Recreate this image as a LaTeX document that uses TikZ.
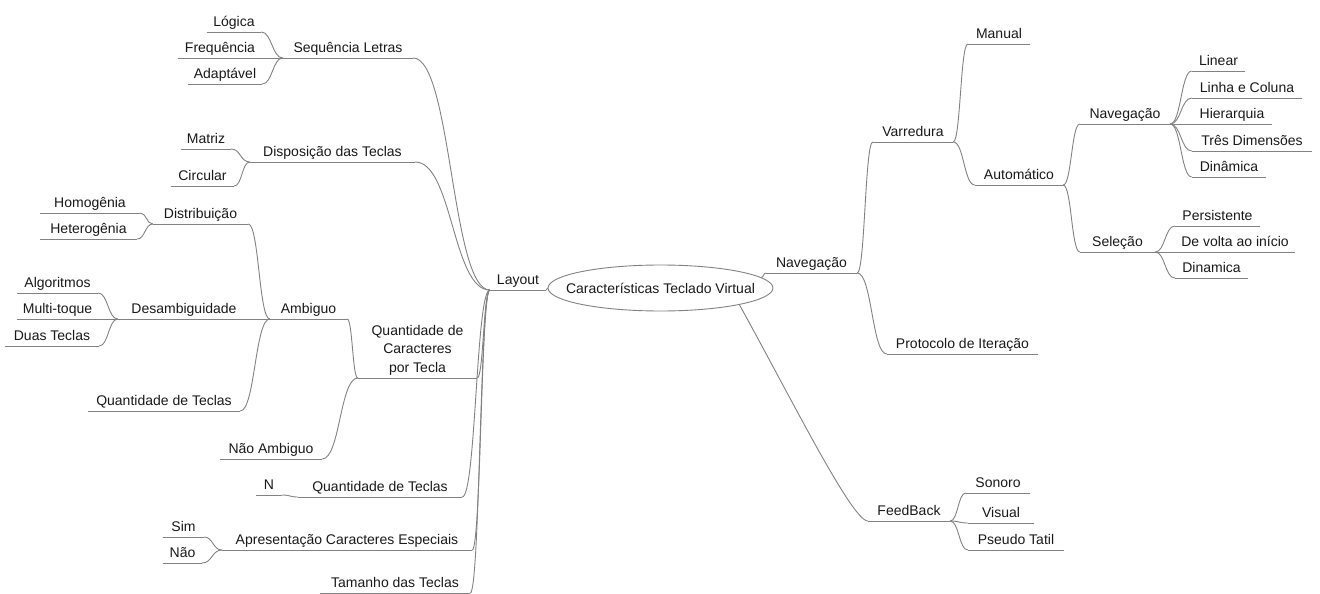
\documentclass[tikz,border=0pt]{standalone}
\usepackage{fontspec}
\setmainfont{Liberation Sans}
\usetikzlibrary{calc,shapes.geometric}
\definecolor{lnc}{RGB}{130,130,130}
\definecolor{txc}{RGB}{25,25,25}
\tikzset{
  link/.style={draw=lnc, line width=0.9pt},
  topicbase/.style={anchor=south, inner xsep=0pt, inner ysep=2.5pt, text=txc,
    font=\fontsize{14}{18.5}\selectfont,
    append after command={(\tikzlastnode.south west) edge[link] (\tikzlastnode.south east)}},
  topic/.style={topicbase, text height=10.5pt, text depth=3pt},
  rootnode/.style={ellipse, draw=lnc, line width=0.9pt, minimum width=225pt, minimum height=46pt,
    inner sep=0pt, text=txc, font=\fontsize{14}{17}\selectfont},
}
\newcommand\mmnode[6][topic]{%
  \pgfmathsetmacro\mmcx{(#3+#4)/2}\pgfmathsetmacro\mmw{#4-#3}%
  \node[#1, minimum width=\mmw pt] (#2) at (\mmcx,#5) {#6};}
\newcommand\mmlink[2]{%
  \draw[link] let \p1=(#1), \p2=(#2), \n1={(\x2-\x1)/2}, \n2={(\x1-\x2)/2} in
    (\p1) .. controls +(\n1,0) and +(\n2,0) .. (\p2);}
\begin{document}
\begin{tikzpicture}[x=1pt,y=-1pt]
\useasboundingbox (0,0) rectangle (1320,594);
% root
\node[rootnode] (root) at (660.5,288) {\makebox[0pt]{Características Teclado Virtual}};
% left side
\mmnode{layout}{490}{546}{290}{Layout}
\mmnode{seq}{283}{413}{58}{Sequência Letras}
\mmnode{logica}{207}{261}{32}{Lógica}
\mmnode{freq}{178}{262}{58}{Frequência}
\mmnode{adapt}{188}{262}{84}{Adaptável}
\mmnode{disp}{250}{415}{162}{Disposição das Teclas}
\mmnode{matriz}{181}{231}{149}{Matriz}
\mmnode{circ}{171}{234}{186}{Circular}
\mmnode[topicbase,align=center]{qcpt}{358}{477}{378}{Quantidade de\\Caracteres\\por Tecla}
\mmnode{ambiguo}{270}{347}{319}{Ambiguo}
\mmnode{naoamb}{220}{322}{459}{Não Ambiguo}
\mmnode{distr}{153}{248}{224}{Distribuição}
\mmnode{homog}{40}{140}{213}{Homogênia}
\mmnode{heterog}{40}{137}{239}{Heterogênia}
\mmnode{desamb}{118}{250}{319}{Desambiguidade}
\mmnode{algo}{17}{98}{293}{Algoritmos}
\mmnode{multi}{17}{98}{319}{Multi-toque}
\mmnode{duas}{5}{99}{346}{Duas Teclas}
\mmnode{qtdA}{88}{240}{411}{Quantidade de Teclas}
\mmnode{qtdB}{298}{462}{497}{Quantidade de Teclas}
\mmnode{nn}{256}{282}{495}{N}
\mmnode{apres}{222}{472}{550}{Apresentação Caracteres Especiais}
\mmnode{sim}{163}{204}{537}{Sim}
\mmnode{nao}{163}{202}{563}{Não}
\mmnode{taman}{320}{470}{593}{Tamanho das Teclas}
% right side
\mmnode{nav}{766}{857}{273}{Navegação}
\mmnode{varr}{873}{953}{142}{Varredura}
\mmnode{proto}{887}{1038}{354}{Protocolo de Iteração}
\mmnode{manual}{968}{1030}{44}{Manual}
\mmnode{auto}{975}{1063}{185}{Automático}
\mmnode{navb}{1080}{1170}{124}{Navegação}
\mmnode{selec}{1080}{1155}{252}{Seleção}
\mmnode{linear}{1192}{1245}{71}{Linear}
\mmnode{linha}{1192}{1302}{98}{Linha e Coluna}
\mmnode{hier}{1192}{1272}{124}{Hierarquia}
\mmnode{tres}{1192}{1312}{151}{Três Dimensões}
\mmnode{dinam}{1192}{1266}{177}{Dinâmica}
\mmnode{pers}{1175}{1260}{226}{Persistente}
\mmnode{devolta}{1175}{1295}{252}{De volta ao início}
\mmnode{dinamica}{1175}{1248}{278}{Dinamica}
\mmnode{feed}{868}{950}{521}{FeedBack}
\mmnode{sonoro}{966}{1030}{493}{Sonoro}
\mmnode{visual}{968}{1034}{523}{Visual}
\mmnode{pseudo}{968}{1064}{550}{Pseudo Tatil}
% connectors
\draw[link] (root.west) -- (layout.south east);
\mmlink{root.6}{nav.south west}
\draw[link] (root.-12) .. controls (790,396) and (852,521) .. (feed.south west);
\foreach \c in {seq,disp,qcpt,qtdB,apres,taman} {\mmlink{layout.south west}{\c.south east}}
\foreach \c in {logica,freq,adapt} {\mmlink{seq.south west}{\c.south east}}
\foreach \c in {matriz,circ} {\mmlink{disp.south west}{\c.south east}}
\foreach \c in {ambiguo,naoamb} {\mmlink{qcpt.south west}{\c.south east}}
\foreach \c in {distr,desamb,qtdA} {\mmlink{ambiguo.south west}{\c.south east}}
\foreach \c in {homog,heterog} {\mmlink{distr.south west}{\c.south east}}
\foreach \c in {algo,multi,duas} {\mmlink{desamb.south west}{\c.south east}}
\mmlink{qtdB.south west}{nn.south east}
\foreach \c in {sim,nao} {\mmlink{apres.south west}{\c.south east}}
\foreach \c in {varr,proto} {\mmlink{nav.south east}{\c.south west}}
\foreach \c in {manual,auto} {\mmlink{varr.south east}{\c.south west}}
\foreach \c in {navb,selec} {\mmlink{auto.south east}{\c.south west}}
\foreach \c in {linear,linha,hier,tres,dinam} {\mmlink{navb.south east}{\c.south west}}
\foreach \c in {pers,devolta,dinamica} {\mmlink{selec.south east}{\c.south west}}
\foreach \c in {sonoro,visual,pseudo} {\mmlink{feed.south east}{\c.south west}}
\end{tikzpicture}
\end{document}
